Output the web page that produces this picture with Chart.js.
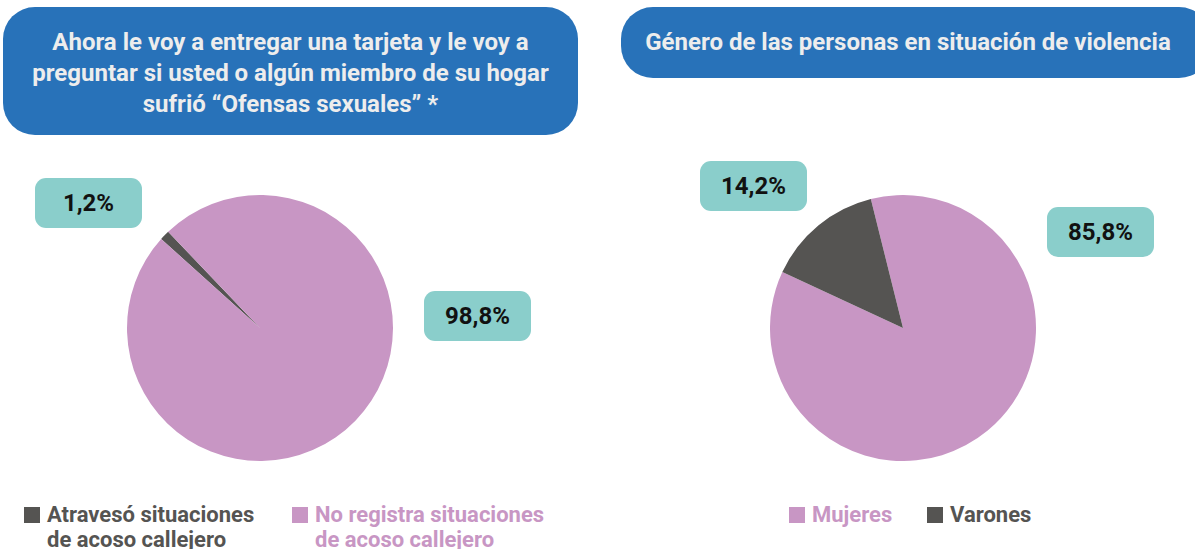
<!DOCTYPE html>
<html>
<head>
<meta charset="utf-8">
<script src="https://cdn.jsdelivr.net/npm/chart.js@4.4.0/dist/chart.umd.min.js"></script>
<style>
  body { margin: 0; width: 1195px; height: 549px; background: #fff; position: relative; overflow: hidden; font-family: Roboto, "Noto Sans", sans-serif; }
  .head { position: absolute; background: #2872b9; color: #ededed; font-weight: bold; font-size: 24px; line-height: 31px; text-align: center; border-radius: 32px; display: flex; align-items: center; justify-content: center; }
  .tag { position: absolute; background: #8acecb; border-radius: 11px; width: 107px; height: 50px; font-weight: bold; font-size: 24px; color: #111; display: flex; align-items: center; justify-content: center; }
  .box { position: absolute; width: 266px; height: 266px; }
  .leg { position: absolute; font-weight: bold; font-size: 22px; line-height: 25px; white-space: nowrap; }
  .leg i { position: absolute; left: -23px; top: 5px; width: 16px; height: 16px; }
</style>
</head>
<body>
<div class="head" style="left:3px;top:7px;width:575px;height:128px;padding-top:4px;box-sizing:border-box;">Ahora le voy a entregar una tarjeta y le voy a<br>preguntar si usted o algún miembro de su hogar<br>sufrió “Ofensas sexuales” *</div>
<div class="head" style="left:621px;top:7px;width:590px;height:71px;padding-right:16px;box-sizing:border-box;">Género de las personas en situación de violencia</div>

<div class="box" style="left:127px;top:195px;"><canvas id="acoso"></canvas></div>
<div class="box" style="left:770px;top:195px;"><canvas id="genero"></canvas></div>

<div class="tag" id="t1" style="left:35px;top:178px;"></div>
<div class="tag" id="t2" style="left:424px;top:291px;"></div>
<div class="tag" id="t3" style="left:700px;top:161px;"></div>
<div class="tag" id="t4" style="left:1047px;top:207px;"></div>

<div class="leg" id="l1" style="left:47px;top:502px;"></div>
<div class="leg" id="l2" style="left:315px;top:502px;"></div>
<div class="leg" id="l3" style="left:812px;top:502px;"></div>
<div class="leg" id="l4" style="left:950px;top:502px;"></div>

<script>
const acosoLabels = ['Atravesó situaciones\nde acoso callejero', 'No registra situaciones\nde acoso callejero'];
const acosoValues = [1.2, 98.8];
const acosoColors = ['#555452', '#c896c4'];

const generoLabels = ['Mujeres', 'Varones'];
const generoValues = [85.8, 14.2];
const generoColors = ['#c896c4', '#555452'];

function pct(v) {
    return v.toFixed(1).replace('.', ',') + '%';
}

function makePie(id, labels, values, colors, rotation) {
    return new Chart(document.getElementById(id), {
        type: 'pie',
        data: {
            labels: labels,
            datasets: [{
                data: values,
                backgroundColor: colors,
                borderWidth: 0
            }]
        },
        options: {
            responsive: false,
            animation: false,
            rotation: rotation,
            plugins: {
                legend: { display: false },
                tooltip: { enabled: false }
            }
        }
    });
}

// canvases sized to the box
['acoso', 'genero'].forEach(function (id) {
    const c = document.getElementById(id);
    c.width = 266;
    c.height = 266;
});

makePie('acoso', acosoLabels, acosoValues, acosoColors, -48);
makePie('genero', generoLabels, generoValues, generoColors, -14);

document.getElementById('t1').textContent = pct(acosoValues[0]);
document.getElementById('t2').textContent = pct(acosoValues[1]);
document.getElementById('t3').textContent = pct(generoValues[1]);
document.getElementById('t4').textContent = pct(generoValues[0]);

function legend(id, text, color) {
    const el = document.getElementById(id);
    el.style.color = color;
    el.innerHTML = '<i style="background:' + color + '"></i>' + text.replace('\n', '<br>');
}
legend('l1', acosoLabels[0], acosoColors[0]);
legend('l2', acosoLabels[1], acosoColors[1]);
legend('l3', generoLabels[0], generoColors[0]);
legend('l4', generoLabels[1], generoColors[1]);
</script>
</body>
</html>
